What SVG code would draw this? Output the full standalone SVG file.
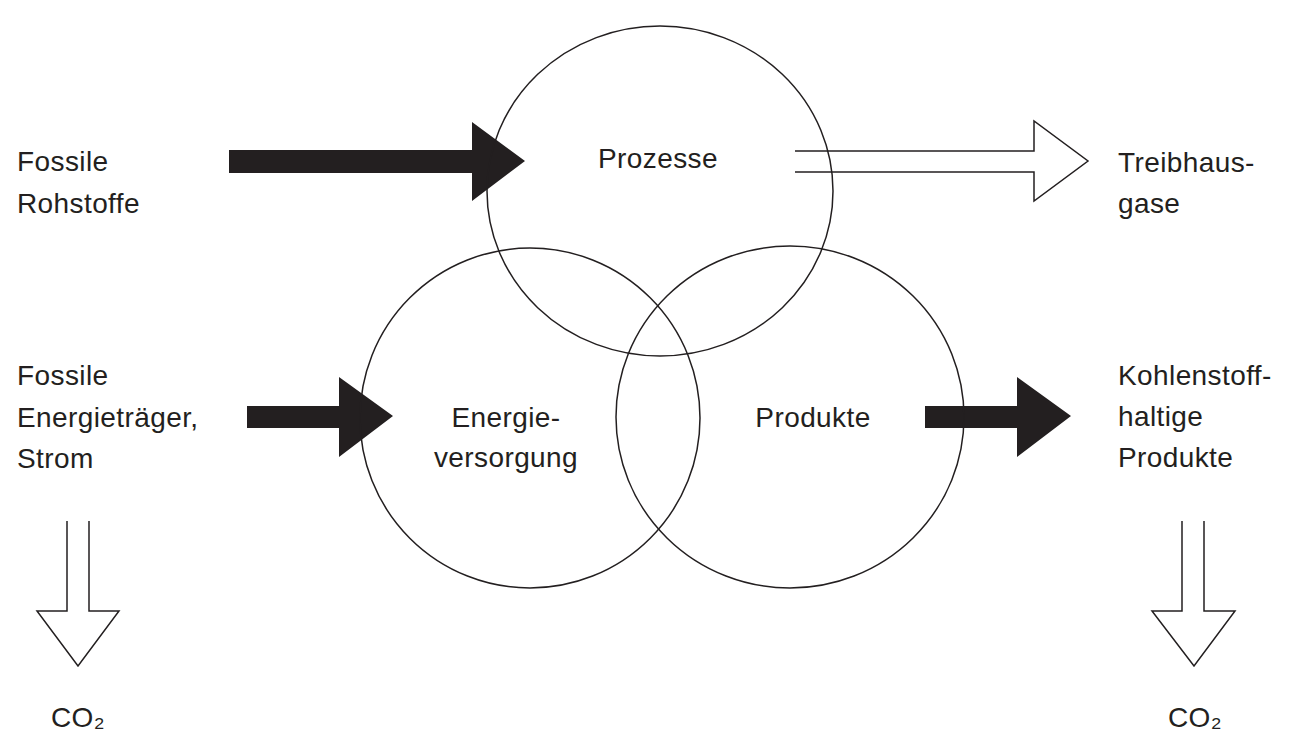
<svg xmlns="http://www.w3.org/2000/svg" width="1295" height="733" viewBox="0 0 1295 733">
<style>
  .t { font-family: "Liberation Sans", Arial, sans-serif; font-size: 28px; letter-spacing: 0.4px; fill: #231f20; }
  .c { text-anchor: middle; }
  .ring { fill: none; stroke: #231f20; stroke-width: 1.5; }
  .solid { fill: #231f20; stroke: none; }
  .hollow { fill: none; stroke: #231f20; stroke-width: 1.5; stroke-linejoin: miter; }
</style>
<rect width="1295" height="733" fill="#ffffff"/>
<g id="connectors">
  <polygon class="solid" points="229,150 472,150 472,122 525,161 472,201 472,173 229,173"/>
  <polygon class="solid" points="247,406 339,406 339,377 393,416 339,457 339,428 247,428"/>
  <polygon class="solid" points="925,406 1017,406 1017,377 1071,416 1017,457 1017,428 925,428"/>
  <path class="hollow" d="M795,151 H1034 V121 L1088,161 L1034,201 V172 H795"/>
  <path class="hollow" d="M67,521 V611 H37 L78,666 L119,611 H89 V521"/>
  <path class="hollow" d="M1182,521 V611 H1152 L1194,666 L1235,611 H1204 V521"/>
</g>
<g id="prozesse">
  <ellipse class="ring" cx="660" cy="191" rx="173" ry="165"/>
  <text class="t c" x="658" y="168">Prozesse</text>
</g>
<g id="energieversorgung">
  <ellipse class="ring" cx="530" cy="418" rx="170" ry="170"/>
  <text class="t c" x="506" y="427">Energie-</text>
  <text class="t c" x="506" y="467">versorgung</text>
</g>
<g id="produkte">
  <ellipse class="ring" cx="790" cy="417" rx="174" ry="171"/>
  <text class="t c" x="813" y="427">Produkte</text>
</g>
<g id="fossile-rohstoffe">
  <text class="t" x="17" y="171">Fossile</text>
  <text class="t" x="17" y="213">Rohstoffe</text>
</g>
<g id="fossile-energietraeger">
  <text class="t" x="17" y="385">Fossile</text>
  <text class="t" x="17" y="427">Energieträger,</text>
  <text class="t" x="17" y="468">Strom</text>
</g>
<g id="treibhausgase">
  <text class="t" x="1118" y="172">Treibhaus-</text>
  <text class="t" x="1118" y="213">gase</text>
</g>
<g id="kohlenstoffhaltige-produkte">
  <text class="t" x="1118" y="385">Kohlenstoff-</text>
  <text class="t" x="1118" y="426">haltige</text>
  <text class="t" x="1118" y="467">Produkte</text>
</g>
<g id="co2-left">
  <text class="t c" x="78" y="727">CO₂</text>
</g>
<g id="co2-right">
  <text class="t c" x="1195" y="727">CO₂</text>
</g>
</svg>
